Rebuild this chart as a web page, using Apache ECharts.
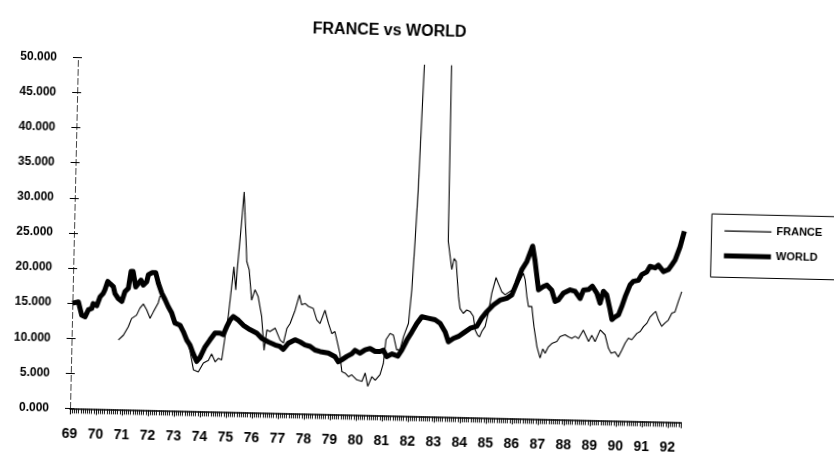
<!DOCTYPE html>
<html>
<head>
<meta charset="utf-8">
<script src="https://cdn.jsdelivr.net/npm/echarts@6/dist/echarts.min.js"></script>
<style>
html,body{margin:0;padding:0;background:#fff;overflow:hidden;}
#chart{width:834px;height:459px;transform:rotate(1.3deg);transform-origin:70px 408.4px;}
</style>
</head>
<body>
<div id="chart"></div>
<script>
// ---- data (year as decimal, value) ----
const worldYears = [1969.00,1969.23,1969.37,1969.50,1969.62,1969.75,1969.80,1969.94,1970.06,1970.18,1970.24,1970.34,1970.43,1970.56,1970.63,1970.76,1970.90,1971.01,1971.14,1971.23,1971.31,1971.42,1971.52,1971.62,1971.71,1971.84,1971.90,1972.05,1972.18,1972.29,1972.43,1972.56,1972.69,1972.83,1972.96,1973.16,1973.29,1973.43,1973.56,1973.69,1973.83,1973.96,1974.14,1974.32,1974.51,1974.70,1974.83,1974.95,1975.08,1975.20,1975.40,1975.59,1975.85,1976.12,1976.31,1976.57,1976.83,1977.02,1977.15,1977.34,1977.59,1977.79,1977.98,1978.18,1978.37,1978.57,1978.89,1979.15,1979.28,1979.41,1979.60,1979.79,1979.91,1980.10,1980.30,1980.49,1980.68,1980.87,1981.00,1981.13,1981.33,1981.56,1981.71,1981.89,1982.08,1982.26,1982.45,1982.70,1982.96,1983.16,1983.36,1983.49,1983.68,1983.87,1984.06,1984.32,1984.57,1984.75,1984.94,1985.19,1985.44,1985.70,1985.89,1986.07,1986.25,1986.44,1986.65,1986.75,1986.91,1987.10,1987.23,1987.42,1987.56,1987.68,1987.87,1988.13,1988.32,1988.52,1988.64,1988.83,1988.98,1989.16,1989.29,1989.41,1989.54,1989.68,1989.76,1989.88,1990.01,1990.13,1990.25,1990.43,1990.55,1990.75,1990.87,1991.06,1991.18,1991.38,1991.50,1991.70,1991.89,1992.02,1992.14,1992.32,1992.47];
const worldValues = [15.0,15.2,13.3,13.1,14.1,14.3,15.0,14.7,16.0,16.5,17.0,18.2,17.9,17.5,16.5,15.8,15.4,16.8,17.3,19.7,19.7,17.5,18.0,18.5,17.8,18.3,19.3,19.6,19.6,18.1,16.7,15.8,14.8,13.9,12.5,12.2,11.3,10.1,9.4,8.2,7.1,7.7,9.2,10.2,11.2,11.2,11.0,12.1,13.1,13.6,13.1,12.4,11.8,11.3,10.6,10.1,9.7,9.5,9.1,10.0,10.5,10.2,9.8,9.6,9.1,8.9,8.7,8.2,7.5,7.8,8.3,8.7,9.2,8.8,9.3,9.5,9.1,9.1,9.3,8.4,8.8,8.5,9.4,10.8,12.0,13.2,14.2,14.0,13.8,13.3,12.1,10.7,11.2,11.5,12.0,12.7,13.0,14.2,15.1,16.1,16.8,17.1,17.6,19.3,21.2,22.4,24.6,22.6,18.4,18.9,19.1,18.4,16.8,17.0,18.0,18.5,18.3,17.3,18.5,18.6,19.1,18.1,16.7,18.4,17.9,15.8,14.4,14.8,15.1,16.3,17.7,19.4,19.9,20.1,20.9,21.3,22.1,21.9,22.3,21.4,21.7,22.4,23.1,25.0,27.2];

const franceYears = [1970.80,1970.99,1971.17,1971.29,1971.48,1971.60,1971.73,1971.86,1972.00,1972.12,1972.30,1972.36,1972.43,1972.56,1972.69,1972.83,1972.96,1973.16,1973.29,1973.43,1973.56,1973.71,1973.90,1974.09,1974.28,1974.40,1974.54,1974.66,1974.79,1974.90,1975.01,1975.11,1975.18,1975.27,1975.31,1975.39,1975.46,1975.51,1975.60,1975.67,1975.77,1975.89,1976.01,1976.14,1976.29,1976.41,1976.50,1976.62,1976.82,1977.02,1977.15,1977.27,1977.39,1977.57,1977.72,1977.82,1977.95,1978.08,1978.27,1978.41,1978.54,1978.72,1978.86,1979.00,1979.12,1979.33,1979.42,1979.55,1979.68,1979.80,1980.00,1980.20,1980.32,1980.43,1980.58,1980.71,1980.89,1981.01,1981.09,1981.24,1981.37,1981.51,1981.64,1981.76,1981.94,1982.04,1982.12,1982.20,1982.27,1982.42,1982.90,1983.36,1983.40,1983.56,1983.64,1983.72,1983.84,1983.91,1984.04,1984.17,1984.30,1984.43,1984.51,1984.60,1984.68,1984.77,1984.89,1985.00,1985.12,1985.27,1985.36,1985.50,1985.63,1985.82,1986.01,1986.20,1986.32,1986.39,1986.47,1986.54,1986.67,1986.77,1986.90,1987.03,1987.13,1987.22,1987.34,1987.47,1987.66,1987.78,1987.97,1988.10,1988.23,1988.36,1988.49,1988.67,1988.88,1989.00,1989.13,1989.32,1989.51,1989.65,1989.76,1989.91,1990.04,1990.17,1990.29,1990.41,1990.54,1990.73,1990.86,1990.98,1991.11,1991.23,1991.35,1991.44,1991.55,1991.68,1991.81,1991.93,1992.06,1992.18,1992.30,1992.42];
const franceValues = [9.9,10.6,11.8,13.0,13.5,14.5,15.1,14.3,13.1,14.0,15.3,16.2,16.5,15.6,14.6,13.7,12.3,11.9,11.0,9.9,8.7,5.9,5.6,6.9,7.3,8.2,7.1,7.6,7.4,10.7,13.8,17.9,20.7,17.4,20.3,24.5,28.4,31.4,26.0,21.5,20.3,16.0,17.5,16.5,13.7,8.9,11.8,11.6,12.1,10.4,10.0,12.1,12.8,14.7,16.9,15.5,15.7,15.3,15.0,13.4,12.9,14.8,13.0,11.5,11.8,8.7,6.1,5.9,5.4,5.7,5.0,4.8,6.0,4.1,5.5,5.0,5.8,7.4,10.8,11.7,11.5,9.4,9.4,11.3,13.2,18.0,24.7,32.2,42.2,62.0,68.0,62.0,25.0,21.0,22.6,22.2,17.2,15.5,14.8,15.3,15.1,14.4,12.5,11.8,11.5,12.3,13.0,14.9,17.8,20.0,19.2,18.0,17.6,18.1,18.6,19.8,20.7,19.8,17.4,16.0,16.0,13.1,10.3,8.7,10.0,9.4,10.3,10.8,11.1,11.8,12.1,11.8,11.6,11.9,11.6,12.8,11.2,12.1,11.2,12.9,12.2,10.3,9.6,9.8,9.1,10.1,11.1,11.8,11.6,12.5,12.8,13.5,14.0,14.9,15.4,15.7,14.5,13.6,14.1,14.5,15.5,15.7,17.2,18.6];

const seriesNames = ['FRANCE', 'WORLD'];
const titleText = 'FRANCE vs WORLD';
const xMin = 1969, xMax = 1992.5;
const yMin = 0, yMax = 50, yStep = 5;

// ---- chart ----
const FONT = "'Liberation Sans', Arial, Helvetica, sans-serif";
const franceData = franceYears.map((y, i) => [y, franceValues[i]]);
const worldData = worldYears.map((y, i) => [y, worldValues[i]]);

const chart = echarts.init(document.getElementById('chart'), null, {renderer: 'canvas'});
chart.setOption({
  animation: false,
  backgroundColor: '#fff',
  title: {
    text: titleText,
    left: 304, top: 16, padding: 0,
    textStyle: {fontFamily: FONT, fontWeight: 'bold', fontSize: 16, color: '#000'}
  },
  legend: {
    orient: 'vertical',
    left: 707.4, top: 199.4,
    padding: [11.1, 40, 15.9, 10.4],
    itemWidth: 47, itemHeight: 14, itemGap: 13.7,
    borderColor: '#000', borderWidth: 1,
    textStyle: {fontFamily: FONT, fontWeight: 'bold', fontSize: 11, color: '#000'},
    lineStyle: {width: 'inherit'},
    itemStyle: {opacity: 0},
    data: seriesNames
  },
  grid: {left: 70, right: 153, top: 57.4, bottom: 50.6, containLabel: false},
  xAxis: {
    type: 'value', min: xMin, max: xMax, interval: 1,
    axisLine: {lineStyle: {color: '#000', width: 1.5}},
    axisTick: {show: true, length: 6, lineStyle: {color: '#000', width: 1}},
    minorTick: {show: true, splitNumber: 12, length: 5, lineStyle: {color: '#111', width: 1}},
    splitLine: {show: false}, minorSplitLine: {show: false},
    axisLabel: {
      formatter: v => Number.isInteger(v) ? String(v).slice(2) : '',
      margin: 19, fontFamily: FONT, fontWeight: 'bold', fontSize: 14, color: '#000'
    }
  },
  yAxis: [{
    type: 'value', min: yMin, max: yMax, interval: yStep,
    axisLine: {show: true, lineStyle: {color: '#444', width: 1, type: [6, 3]}},
    axisTick: {show: true, length: 5, lineStyle: {color: '#000'}},
    splitLine: {show: false},
    axisLabel: {
      formatter: v => v.toFixed(3),
      margin: 21, fontFamily: FONT, fontWeight: 'bold', fontSize: 12, color: '#000'
    }
  }, {
    type: 'value', min: yMin, max: yMax, interval: yStep, position: 'left',
    axisLine: {show: false},
    axisTick: {show: true, inside: true, length: 4, lineStyle: {color: '#000'}},
    axisLabel: {show: false}, splitLine: {show: false}
  }],
  series: [{
    name: seriesNames[0], type: 'line', yAxisIndex: 0,
    data: franceData, showSymbol: false, symbol: 'none', clip: true, z: 2,
    lineStyle: {color: '#000', width: 1.1}, itemStyle: {color: '#000'}
  }, {
    name: seriesNames[1], type: 'line', yAxisIndex: 0,
    data: worldData, showSymbol: false, symbol: 'none', clip: true, z: 3,
    lineStyle: {color: '#000', width: 5, join: 'round'}, itemStyle: {color: '#000'}
  }]
});
</script>
</body>
</html>
